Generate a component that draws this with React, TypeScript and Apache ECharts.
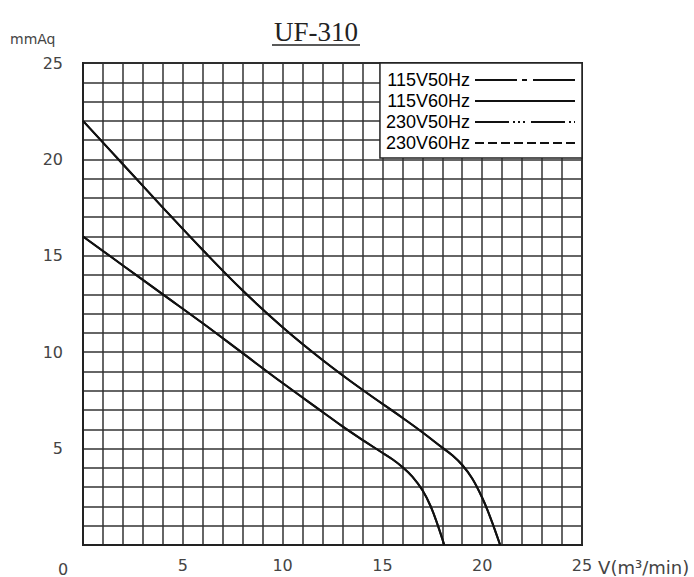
import React, { useEffect, useRef } from "react";
import * as echarts from "echarts";

// Airflow V (m³/min) vs static pressure (mmAq)
const curve60Hz: [number, number][] = [
  [0, 22], [2, 19.75], [4, 17.5], [6, 15.3], [8, 13.2], [10, 11.3],
  [12, 9.6], [14, 8.05], [16, 6.6], [17, 5.85], [18, 5.05], [18.5, 4.65],
  [19, 4.15], [19.5, 3.45], [20, 2.45], [20.4, 1.45], [20.9, 0],
];
const curve50Hz: [number, number][] = [
  [0, 16], [2, 14.5], [4, 13.0], [6, 11.5], [8, 9.95], [10, 8.4],
  [12, 6.9], [13, 6.15], [14, 5.45], [14.9, 4.85], [15.5, 4.45],
  [16, 4.05], [16.5, 3.55], [17, 2.85], [17.4, 2.05], [17.75, 1.1], [18.1, 0],
];
const seriesNames = ["115V50Hz", "115V60Hz", "230V50Hz", "230V60Hz"];
const seriesCurves = [curve50Hz, curve60Hz, curve50Hz, curve60Hz];
const legendDash: (number[] | "solid")[] = [
  [42, 5, 5, 6],
  "solid",
  [34, 4, 2, 3, 2, 3, 2, 6],
  [9, 4],
];
const xTicks = [0, 5, 10, 15, 20, 25];
const yTicks = [0, 5, 10, 15, 20, 25];

export default function App() {
  const ref = useRef<HTMLDivElement>(null);
  useEffect(() => {
    if (!ref.current) return;
    const chart = echarts.init(ref.current, undefined, { renderer: "svg" });
    const gridStyle = { color: "#333", width: 1.5 };
    const labelStyle = {
      fontFamily: "DejaVu Sans",
      fontSize: 16,
      color: "#444",
    };
    chart.setOption({
      animation: false,
      backgroundColor: "#fff",
      grid: {
        left: 83,
        top: 63,
        right: 112,
        bottom: 32,
        containLabel: false,
        outerBoundsMode: "none",
        show: true,
        borderColor: "#222",
        borderWidth: 2,
      },
      xAxis: {
        type: "value",
        min: xTicks[0],
        max: xTicks[xTicks.length - 1],
        interval: 5,
        name: "V(m³/min)",
        nameLocation: "end",
        nameGap: 15,
        nameTextStyle: {
          ...labelStyle,
          fontSize: 18,
          align: "left",
          verticalAlign: "top",
          padding: [13, 0, 0, 0],
        },
        axisLine: { show: true, lineStyle: { color: "#222", width: 2 } },
        axisTick: { show: false },
        axisLabel: {
          ...labelStyle,
          margin: 12,
          formatter: (v: number) => (v === 0 ? "" : String(v)),
        },
        splitLine: { show: true, lineStyle: gridStyle },
        minorTick: { show: false, splitNumber: 5 },
        minorSplitLine: { show: true, lineStyle: gridStyle },
      },
      yAxis: {
        type: "value",
        min: yTicks[0],
        max: yTicks[yTicks.length - 1],
        interval: 5,
        axisLine: { show: true, lineStyle: { color: "#222", width: 2 } },
        axisTick: { show: false },
        axisLabel: {
          ...labelStyle,
          margin: 20,
          formatter: (v: number) => (v === 0 ? "" : String(v)),
        },
        splitLine: { show: true, lineStyle: gridStyle },
        minorTick: { show: false, splitNumber: 5 },
        minorSplitLine: { show: true, lineStyle: gridStyle },
      },
      legend: {
        orient: "vertical",
        right: 112,
        top: 63,
        align: "right",
        itemWidth: 100,
        itemHeight: 12,
        itemGap: 3,
        padding: [8, 6, 6, 6],
        backgroundColor: "#fff",
        borderColor: "#222",
        borderWidth: 1.5,
        selectedMode: false,
        textStyle: {
          fontFamily: "Liberation Sans",
          fontSize: 18,
          color: "#000",
          lineHeight: 18,
        },
        data: seriesNames.map((n, i) => ({
          name: n,
          itemStyle: { color: "rgba(0,0,0,0)", borderWidth: 0, opacity: 0 },
          lineStyle: { type: legendDash[i], width: 2, color: "#111" },
        })),
      },
      graphic: [
        {
          type: "text",
          x: 316,
          y: 32,
          style: {
            text: "UF-310",
            fontFamily: "Liberation Serif",
            fontSize: 27,
            fill: "#222",
            align: "center",
            verticalAlign: "middle",
          },
        },
        {
          type: "line",
          shape: { x1: 272, y1: 45, x2: 360, y2: 45 },
          style: { stroke: "#222", lineWidth: 1.5 },
        },
        {
          type: "text",
          x: 10,
          y: 39,
          style: {
            text: "mmAq",
            fontFamily: "DejaVu Sans",
            fontSize: 14,
            fill: "#444",
            align: "left",
            verticalAlign: "middle",
          },
        },
        {
          type: "text",
          x: 63,
          y: 569,
          style: {
            text: "0",
            fontFamily: "DejaVu Sans",
            fontSize: 16,
            fill: "#444",
            align: "center",
            verticalAlign: "middle",
          },
        },
      ],
      series: seriesNames.map((n, i) => ({
        name: n,
        type: "line",
        data: seriesCurves[i],
        smooth: 0.4,
        showSymbol: false,
        symbol: "none",
        lineStyle: { color: "#111", width: 2, type: "solid" },
        itemStyle: { color: "#111" },
        z: 3,
      })),
    });
    return () => chart.dispose();
  }, []);
  return (
    <div
      ref={ref}
      style={{ position: "absolute", left: 0, top: 0, width: 694, height: 577 }}
    />
  );
}
